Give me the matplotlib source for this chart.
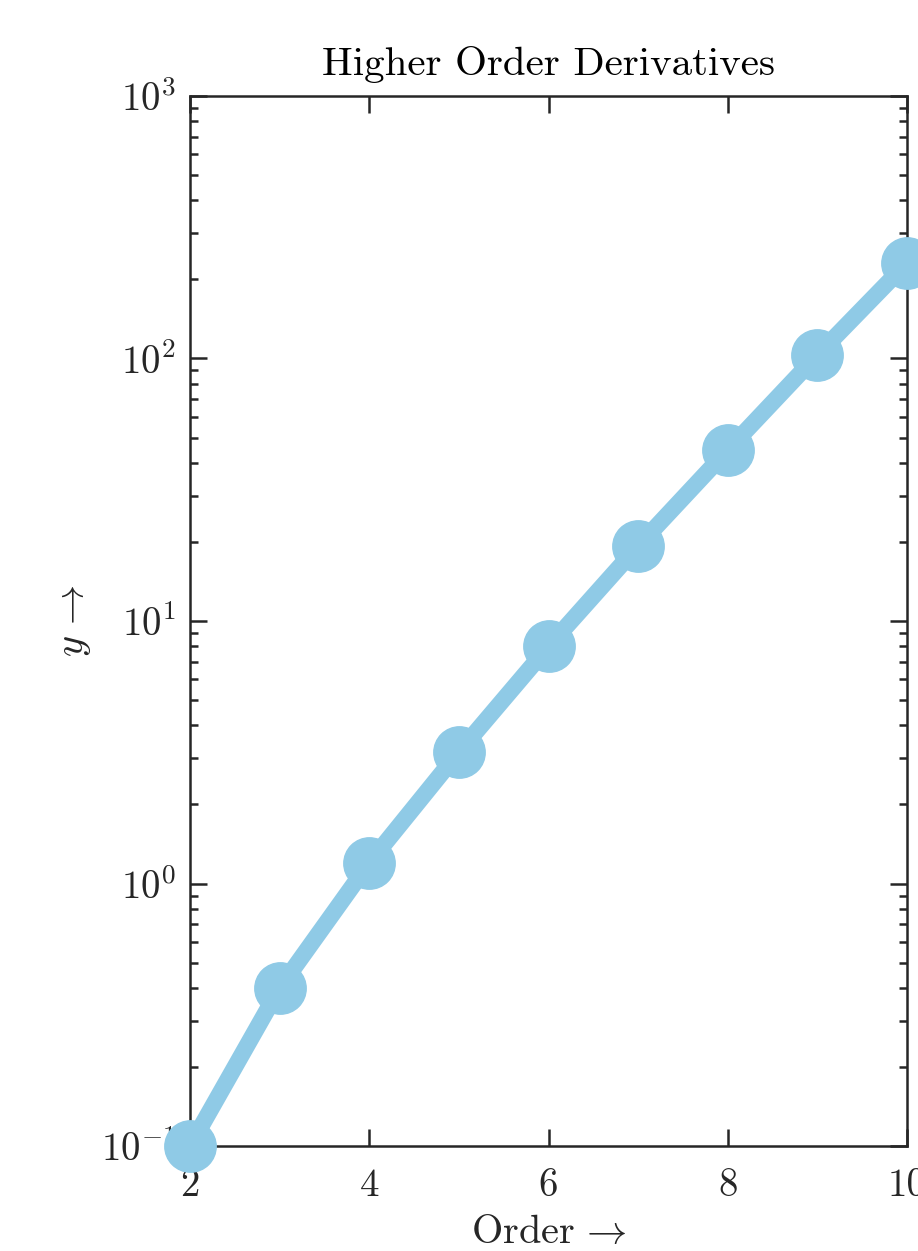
import numpy as np
import matplotlib
matplotlib.use('Agg')
import matplotlib.pyplot as plt

# 数据
order = [2, 3, 4, 5, 6, 7, 8, 9, 10]
y_vals = [0.1, 0.4, 1.2, 3.17, 8.0, 19.3, 44.8, 103, 231]
x_ticks = [2, 4, 6, 8, 10]

plt.rcParams['font.family'] = 'cmr10'
plt.rcParams['mathtext.fontset'] = 'cm'
plt.rcParams['axes.formatter.use_mathtext'] = True

line_color = '#8fcae6'
axis_color = '#262626'

fig = plt.figure(figsize=(9.18, 12.51), dpi=100)
ax = fig.add_axes([0.207, 0.0839, 0.781, 0.8394])

ax.plot(order, y_vals, color=line_color, linewidth=12, marker='o', markersize=37,
        clip_on=False, zorder=10)

ax.set_yscale('log')
ax.set_xlim(2, 10)
ax.set_ylim(1e-1, 1e3)
ax.set_xticks(x_ticks)
ax.set_xticklabels([str(t) for t in x_ticks])
ax.yaxis.set_minor_locator(matplotlib.ticker.LogLocator(base=10, subs=np.arange(2, 10)))
ax.yaxis.set_minor_formatter(matplotlib.ticker.NullFormatter())

# 坐标轴样式（MATLAB 风格）
for sp in ax.spines.values():
    sp.set_color(axis_color)
    sp.set_linewidth(1.8)
ax.tick_params(which='both', direction='in', top=True, right=True, colors=axis_color,
               labelsize=28, width=1.8)
ax.tick_params(which='major', length=12)
ax.tick_params(which='minor', length=6)
ax.tick_params(axis='x', pad=16)
ax.tick_params(axis='y', pad=10)

ax.set_title('Higher Order Derivatives', fontsize=29.5, color='black', pad=15)
ax.set_xlabel(r'Order$\,\rightarrow$', fontsize=29, color=axis_color, labelpad=8)
ax.set_ylabel(r'$y\,\rightarrow$', fontsize=29, color=axis_color, labelpad=6)

plt.savefig('out.png', dpi=100)
